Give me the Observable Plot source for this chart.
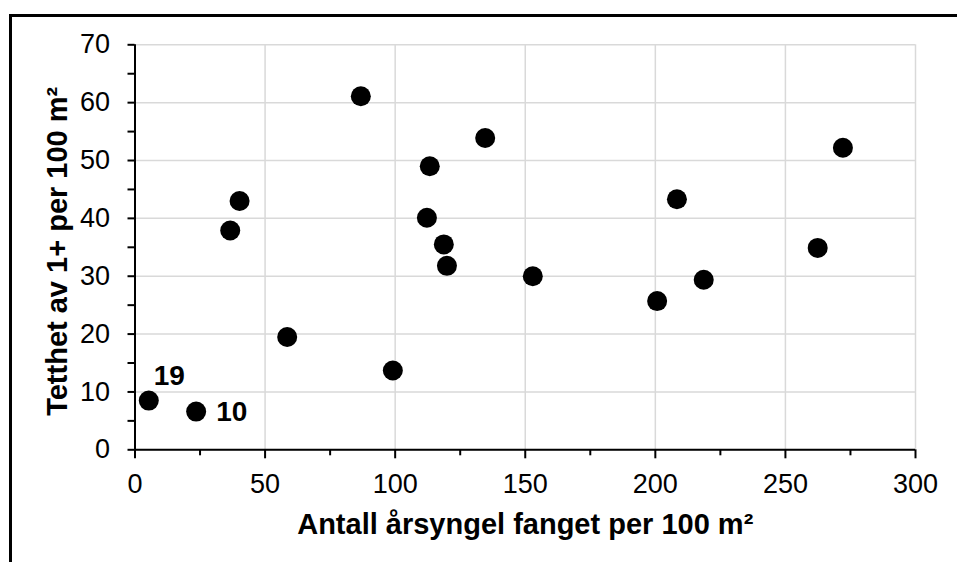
<!DOCTYPE html>
<html>
<head>
<meta charset="utf-8">
<script src="https://cdn.jsdelivr.net/npm/d3@7"></script>
<script src="https://cdn.jsdelivr.net/npm/@observablehq/plot@0.6"></script>
<style>
  html, body { margin: 0; padding: 0; background: #fff; overflow: hidden; }
  #wrap { position: relative; width: 957px; height: 562px; }
  #wrap svg { position: absolute; left: 0; top: 0; }
  #border { position: absolute; left: 9px; top: 14px; width: 2000px; height: 2000px;
            border-top: 3px solid #000; border-left: 3px solid #000; pointer-events: none; }
</style>
</head>
<body>
<div id="wrap"><div id="border"></div></div>
<script>
// Yearling catch vs. density of 1+ fish, per 100 m²
const catchPer100 = [5.3, 23.5, 36.6, 40.2, 58.5, 86.8, 99.1, 112.2, 113.3, 118.7, 119.9, 134.6, 152.9, 200.7, 208.3, 218.6, 262.4, 272.1];
const densityPer100 = [8.5, 6.6, 37.9, 43.0, 19.5, 61.1, 13.7, 40.1, 49.0, 35.5, 31.8, 53.9, 30.0, 25.7, 43.3, 29.4, 34.9, 52.2];
// station numbers written next to the first two points
const stationLabels = ["19", "10"];

const xTicks = [0, 50, 100, 150, 200, 250, 300];
const xMinor = [25, 75, 125, 175, 225, 275];
const yTicks = [0, 10, 20, 30, 40, 50, 60, 70];
const yMinor = [5, 15, 25, 35, 45, 55, 65];

const xTitle = "Antall årsyngel fanget per 100 m²";
const yTitle = "Tetthet av 1+ per 100 m²";

const points = catchPer100.map((x, i) => ({x, y: densityPer100[i]}));
const labelled = stationLabels.map((t, i) => ({...points[i], t}));

const font = "'Liberation Sans', Arial, sans-serif";
const labelStyle = {x: "x", y: "y", text: "t", textAnchor: "start", lineAnchor: "middle",
  fontSize: 28, fontWeight: "bold", fill: "#000"};

const chart = Plot.plot({
  width: 957,
  height: 562,
  marginLeft: 134.5,
  marginRight: 42,
  marginTop: 44.3,
  marginBottom: 112.7,
  style: {fontFamily: font, color: "#000", background: "transparent"},
  x: {domain: [0, 300]},
  y: {domain: [0, 70]},
  marks: [
    Plot.gridX(xTicks, {stroke: "#d9d9d9", strokeOpacity: 1, strokeWidth: 1.5}),
    Plot.gridY(yTicks, {stroke: "#d9d9d9", strokeOpacity: 1, strokeWidth: 1.5}),
    Plot.axisX(xTicks, {tickSize: 9, tickPadding: 15, fontSize: 27, strokeWidth: 2, label: null}),
    Plot.axisX(xMinor, {tickSize: 6, tickFormat: () => "", strokeWidth: 2, label: null}),
    Plot.axisY(yTicks, {tickSize: 7, tickPadding: 18, fontSize: 27, strokeWidth: 2, label: null}),
    Plot.axisY(yMinor, {tickSize: 7, tickFormat: () => "", strokeWidth: 2, label: null}),
    Plot.ruleY([0], {stroke: "#000", strokeWidth: 2}),
    Plot.ruleX([0], {stroke: "#000", strokeWidth: 2}),
    Plot.dot(points, {x: "x", y: "y", r: 10, fill: "#000", stroke: "none"}),
    Plot.text(labelled.slice(0, 1), {...labelStyle, dx: 5, dy: -25}),
    Plot.text(labelled.slice(1, 2), {...labelStyle, dx: 20, dy: 0}),
    Plot.text([xTitle], {frameAnchor: "bottom", textAnchor: "middle", lineAnchor: "middle", dy: 75,
      fontSize: 29, fontWeight: "bold", fill: "#000"}),
    Plot.text([yTitle], {frameAnchor: "left", textAnchor: "middle", lineAnchor: "middle", dx: -77, dy: 4, rotate: -90,
      fontSize: 29, fontWeight: "bold", fill: "#000"})
  ]
});
document.getElementById("wrap").prepend(chart);
</script>
</body>
</html>
